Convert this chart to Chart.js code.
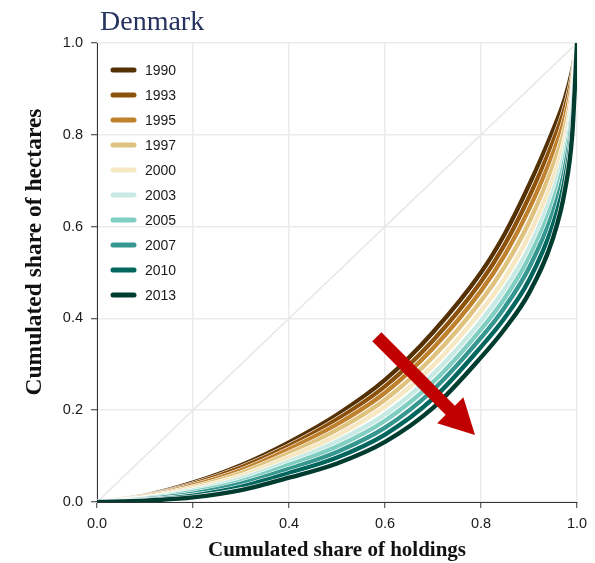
<!DOCTYPE html>
<html><head><meta charset="utf-8">
<script src="https://cdn.jsdelivr.net/npm/chart.js@4/dist/chart.umd.min.js"></script>
<style>html,body{margin:0;padding:0;background:#fff}#wrap{width:595px;height:563px}</style>
</head><body><div id="wrap"><canvas id="c" width="595" height="563"></canvas></div>
<script>
const chartTitle = "Denmark";
const xTitle = "Cumulated share of holdings";
const yTitle = "Cumulated share of hectares";
const years = ["1990","1993","1995","1997","2000","2003","2005","2007","2010","2013"];
const colors = ["#543005","#8c510a","#bf812d","#dfc27d","#f6e8c3","#c7eae5","#80cdc1","#35978f","#01665e","#003c30"];
const xs = [0,0.1,0.2,0.3,0.4,0.5,0.6,0.7,0.8,0.85,0.9,0.95,0.975,0.99,1];
const y1990 = [0,.014,.042,.080,.130,.190,.266,.370,.500,.585,.690,.810,.880,.940,1];
const y1993 = [0,.013,.039,.075,.122,.180,.252,.352,.480,.562,.664,.785,.859,.926,1];
const y1995 = [0,.012,.036,.069,.115,.169,.238,.335,.460,.539,.638,.760,.838,.912,1];
const y1997 = [0,.011,.032,.063,.106,.157,.223,.316,.438,.514,.609,.733,.815,.897,1];
const y2000 = [0,.009,.029,.057,.098,.145,.208,.297,.416,.488,.581,.705,.792,.881,1];
const y2003 = [0,.008,.025,.051,.088,.132,.191,.278,.394,.465,.553,.677,.768,.864,1];
const y2005 = [0,.007,.022,.045,.081,.121,.177,.261,.376,.445,.532,.655,.748,.850,1];
const y2007 = [0,.006,.018,.040,.072,.109,.162,.244,.358,.425,.510,.632,.728,.835,1];
const y2010 = [0,.004,.014,.033,.063,.097,.147,.225,.338,.402,.483,.605,.705,.818,1];
const y2013 = [0,.003,.010,.026,.053,.084,.131,.205,.315,.378,.455,.575,.680,.800,1];
const series = [y1990,y1993,y1995,y1997,y2000,y2003,y2005,y2007,y2010,y2013];
const equality = [0,1];
const tickVals = [0,0.2,0.4,0.6,0.8,1.0];
// annotation arrow (data coordinates)
const arrowFrom = {x:0.583, y:0.36};
const arrowTo = {x:0.7875, y:0.146};

const datasets = [];
series.forEach((ys,k)=>{
  const pts = xs.map((x,i)=>({x, y:ys[i]}));
  datasets.push({label:years[k], data:pts, borderColor:colors[k], backgroundColor:colors[k],
    borderWidth:4.4, pointRadius:0, cubicInterpolationMode:'monotone', borderCapStyle:'round', order:2*(9-k)});
  datasets.push({label:'', halo:true, data:pts, borderColor:'#ffffff', borderWidth:5.6, pointRadius:0,
    cubicInterpolationMode:'monotone', borderCapStyle:'round', order:2*(9-k)+1});
});
datasets.push({label:'', halo:true, data:equality.map(v=>({x:v,y:v})), borderColor:'#e6e6e6', borderWidth:1.5, pointRadius:0, order:100});

const deco = {
  id:'deco',
  afterDatasetsDraw(chart){
    const {ctx, scales:{x,y}} = chart;
    const x0=x.getPixelForValue(arrowFrom.x), y0=y.getPixelForValue(arrowFrom.y);
    const x1=x.getPixelForValue(arrowTo.x), y1=y.getPixelForValue(arrowTo.y);
    const ang=Math.atan2(y1-y0,x1-x0), L=Math.hypot(x1-x0,y1-y0);
    const headL=35, headW=37, shaftW=13;
    ctx.save(); ctx.translate(x0,y0); ctx.rotate(ang);
    ctx.fillStyle='#c00000';
    ctx.beginPath();
    ctx.moveTo(0,-shaftW/2); ctx.lineTo(L-headL,-shaftW/2); ctx.lineTo(L-headL,-headW/2);
    ctx.lineTo(L,0); ctx.lineTo(L-headL,headW/2); ctx.lineTo(L-headL,shaftW/2); ctx.lineTo(0,shaftW/2);
    ctx.closePath(); ctx.fill(); ctx.restore();
  },
  afterDraw(chart){
    const {ctx, chartArea:a} = chart;
    ctx.save();
    years.forEach((yr,k)=>{
      const cy = a.top + 27 + k*25;
      ctx.strokeStyle=colors[k]; ctx.lineWidth=5; ctx.lineCap='round';
      ctx.beginPath(); ctx.moveTo(a.left+16,cy); ctx.lineTo(a.left+37,cy); ctx.stroke();
      ctx.fillStyle='#1a1a1a'; ctx.font='14px "Liberation Sans", Arial, sans-serif';
      ctx.textBaseline='middle'; ctx.textAlign='left';
      ctx.fillText(yr, a.left+48, cy+1);
    });
    ctx.fillStyle='#26335e'; ctx.font='28px "Liberation Serif", "Times New Roman", serif';
    ctx.textBaseline='alphabetic'; ctx.fillText(chartTitle, a.left+3, 30);
    // y-axis title
    ctx.translate(35, 252); ctx.rotate(-Math.PI/2);
    ctx.fillStyle='#111'; ctx.font='bold 23.5px "Liberation Serif", "Times New Roman", serif';
    ctx.textAlign='center'; ctx.textBaseline='middle';
    ctx.fillText(yTitle, 0, 0);
    ctx.restore();
  }
};

new Chart(document.getElementById('c'), {
  type:'line',
  data:{datasets},
  options:{
    responsive:false, animation:false, events:[],
    layout:{padding:{top:43,right:18,left:0,bottom:0}},
    plugins:{legend:{display:false}, tooltip:{enabled:false}},
    scales:{
      x:{type:'linear', min:0, max:1,
        afterBuildTicks(s){s.ticks=tickVals.map(v=>({value:v}));},
        afterFit(s){s.height=61;},
        ticks:{callback:v=>v.toFixed(1), color:'#1a1a1a', font:{family:'"Liberation Sans", Arial', size:14.5}, padding:7, maxRotation:0},
        grid:{color:'#ebebeb', lineWidth:1.5, tickLength:6, tickColor:'#333', tickWidth:1},
        border:{color:'#333', width:1},
        title:{display:true, text:xTitle, color:'#111', font:{family:'"Liberation Serif", serif', size:21, weight:'bold'}, padding:{top:0,bottom:0}}
      },
      y:{type:'linear', min:0, max:1,
        afterBuildTicks(s){s.ticks=tickVals.map(v=>({value:v}));},
        afterFit(s){s.width=97;},
        ticks:{callback:v=>v.toFixed(1), color:'#1a1a1a', font:{family:'"Liberation Sans", Arial', size:14.5}, padding:8},
        grid:{color:'#ebebeb', lineWidth:1.5, tickLength:6, tickColor:'#333', tickWidth:1},
        border:{color:'#333', width:1},
        title:{display:false}
      }
    }
  },
  plugins:[deco]
});
</script></body></html>
